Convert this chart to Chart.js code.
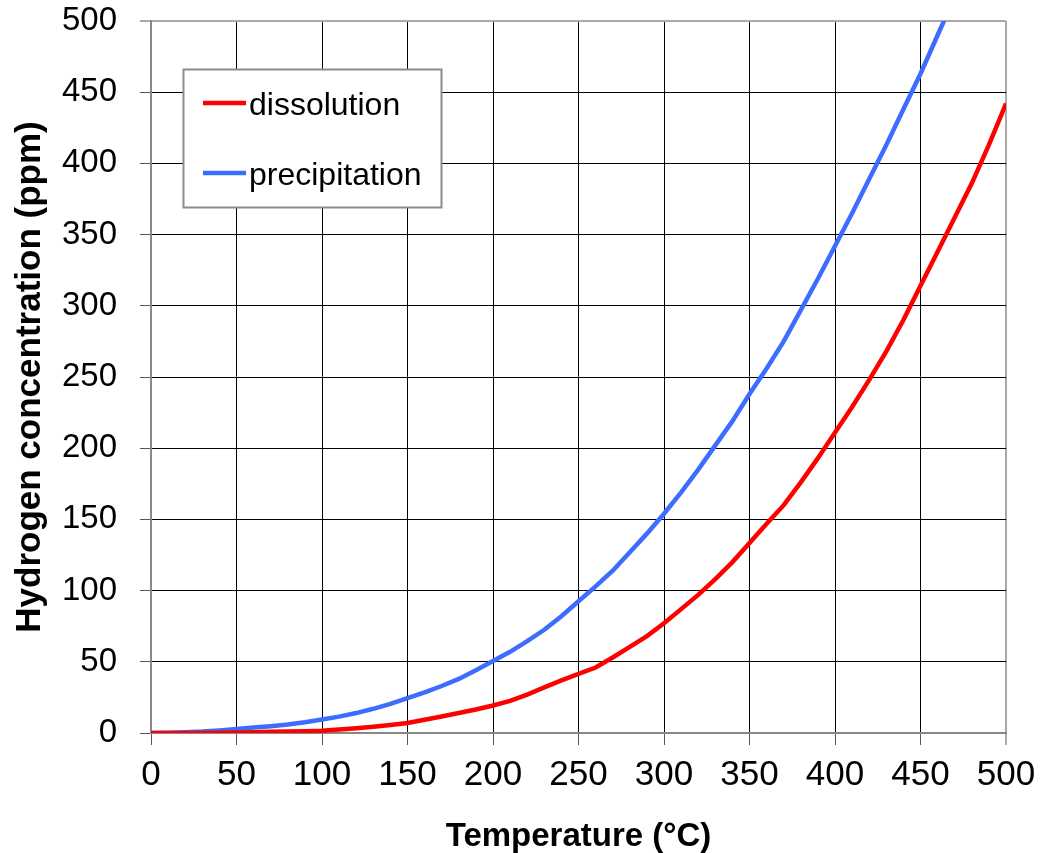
<!DOCTYPE html>
<html>
<head>
<meta charset="utf-8">
<script src="https://cdn.jsdelivr.net/npm/chart.js@4"></script>
<style>
  html, body { margin: 0; padding: 0; background: #fff; }
  #wrap { width: 1041px; height: 853px; position: relative; }
</style>
</head>
<body>
<div id="wrap"><canvas id="c" width="1041" height="853"></canvas></div>
<script>
// ---- data ----
const temperatures = [0,10,20,30,40,50,60,70,80,90,100,110,120,130,140,150,160,170,180,190,200,210,220,230,240,250,260,270,280,290,300,310,320,330,340,350,360,370,380,390,400,410,420,430,440,450,460,470,480,490,500];
const dissolution = [0,0,0,0,0.1,0.3,0.5,0.8,1.1,1.3,1.6,2.4,3.3,4.4,5.6,7,9.3,11.6,14,16.5,19.3,22.5,27,32,37,41.5,46,53,60.5,68,77,87,97,108,120,133.5,147,160,176,193,211,229,248,268,290,314,338,362,386,413,442];
const precipitation = [0,0.2,0.5,1,1.8,2.8,3.8,4.8,6,7.5,9.5,11.5,14,17,20.5,24.5,28.5,33,38,44,50.5,57,64.5,72.5,82,92.5,103,114,127,140,154,169,185,202,219,238,256,275,297,319,342,365,389,413,438,463,490,517];
const seriesNames = ['dissolution', 'precipitation'];
const xTickValues = [0,50,100,150,200,250,300,350,400,450,500];
const yTickValues = [0,50,100,150,200,250,300,350,400,450,500];
const xTitle = 'Temperature (°C)';
const yTitle = 'Hydrogen concentration (ppm)';

const FONT = "'Liberation Sans', Arial, Helvetica, sans-serif";

function toPoints(xs, ys) {
  return ys.map((v, i) => ({ x: xs[i], y: v }));
}

const legendBox = {
  id: 'legendBox',
  afterDraw(chart, args, opts) {
    const ctx = chart.ctx;
    ctx.save();
    ctx.fillStyle = '#ffffff';
    ctx.fillRect(opts.x, opts.y, opts.w, opts.h);
    ctx.strokeStyle = '#8c8c8c';
    ctx.lineWidth = 2;
    ctx.strokeRect(opts.x, opts.y, opts.w, opts.h);
    chart.data.datasets.forEach((ds, i) => {
      const cy = opts.firstRow + i * opts.rowGap;
      ctx.strokeStyle = ds.borderColor;
      ctx.lineWidth = 4.5;
      ctx.beginPath();
      ctx.moveTo(opts.lineX0, cy);
      ctx.lineTo(opts.lineX1, cy);
      ctx.stroke();
      ctx.fillStyle = '#000';
      ctx.font = opts.font;
      ctx.textBaseline = 'middle';
      ctx.textAlign = 'left';
      ctx.fillText(ds.label, opts.textX, cy + 3);
    });
    ctx.restore();
  }
};

const edgeColor = (ctx) => (ctx.tick && ctx.tick.value === 500) ? '#a8a8a8' : '#000000';
const edgeWidth = (ctx) => (ctx.tick && ctx.tick.value === 500) ? 2 : 1;

function zeroPad(scale) {
  scale.paddingTop = 0;
  scale.paddingBottom = 0;
  scale.paddingLeft = 0;
  scale.paddingRight = 0;
}

new Chart(document.getElementById('c'), {
  type: 'line',
  data: {
    datasets: [
      {
        label: seriesNames[0],
        data: toPoints(temperatures, dissolution),
        borderColor: '#ff0000',
        backgroundColor: '#ff0000',
        borderWidth: 4.5,
        pointRadius: 0,
        tension: 0,
        clip: 0
      },
      {
        label: seriesNames[1],
        data: toPoints(temperatures, precipitation),
        borderColor: '#3d6dff',
        backgroundColor: '#3d6dff',
        borderWidth: 4.5,
        pointRadius: 0,
        tension: 0,
        clip: 0
      }
    ]
  },
  options: {
    responsive: false,
    animation: false,
    layout: { padding: { left: 0, right: 35, top: 21, bottom: 0 } },
    plugins: {
      legend: { display: false },
      tooltip: { enabled: false },
      legendBox: {
        x: 183.5, y: 69.5, w: 258, h: 138,
        firstRow: 103, rowGap: 70,
        lineX0: 203, lineX1: 246, textX: 249,
        font: '32px ' + FONT
      }
    },
    scales: {
      x: {
        type: 'linear',
        min: 0, max: 500,
        afterBuildTicks: (scale) => { scale.ticks = xTickValues.map(v => ({ value: v })); },
        afterFit: (scale) => { scale.height = 120; zeroPad(scale); },
        ticks: {
          color: '#000',
          font: { family: FONT, size: 35 },
          padding: 9,
          maxRotation: 0
        },
        grid: {
          color: edgeColor,
          lineWidth: edgeWidth,
          tickColor: '#555',
          tickLength: 12,
          tickWidth: 1
        },
        border: { color: '#888888', width: 2 },
        title: {
          display: true,
          text: xTitle,
          color: '#000',
          font: { family: FONT, size: 33, weight: 'bold', lineHeight: 1 },
          padding: { top: 0, bottom: 0 }
        }
      },
      y: {
        type: 'linear',
        min: 0, max: 500,
        afterBuildTicks: (scale) => { scale.ticks = yTickValues.map(v => ({ value: v })); },
        afterFit: (scale) => { scale.width = 151; zeroPad(scale); },
        ticks: {
          color: '#000',
          font: { family: FONT, size: 33 },
          padding: 23
        },
        grid: {
          color: edgeColor,
          lineWidth: edgeWidth,
          tickColor: '#555',
          tickLength: 11,
          tickWidth: 1
        },
        border: { color: '#888888', width: 2 },
        title: {
          display: true,
          text: yTitle,
          color: '#000',
          font: { family: FONT, size: 35, weight: 'bold', lineHeight: 1 },
          padding: { top: 13, bottom: 0 }
        }
      }
    }
  },
  plugins: [legendBox]
});
</script>
</body>
</html>
